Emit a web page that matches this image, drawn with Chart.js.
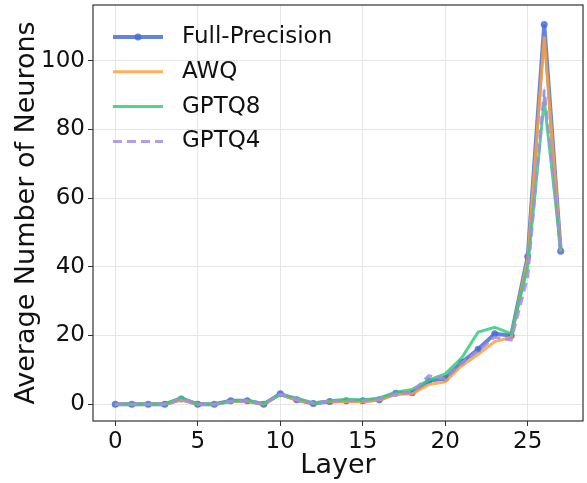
<!DOCTYPE html>
<html>
<head>
<meta charset="utf-8">
<script src="https://cdn.jsdelivr.net/npm/chart.js@4"></script>
<style>
  html, body { margin: 0; padding: 0; background: #fff; }
  #wrap { width: 587px; height: 483px; }
</style>
</head>
<body>
<div id="wrap"><canvas id="neuronChart" width="587" height="483"></canvas></div>
<script>
// neurons per layer for each model variant
const layers = [0, 1, 2, 3, 4, 5, 6, 7, 8, 9, 10, 11, 12, 13, 14, 15, 16, 17, 18, 19, 20, 21, 22, 23, 24, 25, 26, 27];
const fullPrecision = [0, 0, 0, 0, 1.5, 0, 0, 1, 1, 0, 3, 1.3, 0.2, 0.8, 1, 1, 1.3, 3.2, 3.3, 6.8, 7.5, 12.2, 16, 20.5, 20, 43, 110.5, 44.5];
const awq = [0, 0, 0, 0, 1.2, 0, 0, 0.8, 0.9, 0, 2.8, 1.2, 0.3, 0.8, 0.8, 0.7, 1.2, 2.8, 3, 5.7, 6.5, 11.2, 14.5, 18.2, 19.5, 42, 107, 44.5];
const gptq8 = [0, 0, 0, 0, 2, 0, 0, 0.9, 1.1, 0.2, 2.8, 1.8, 0.3, 1, 1.4, 1.2, 1.8, 3.5, 4.3, 7, 8.8, 13.5, 21, 22.4, 20.5, 40, 88.5, 45];
const gptq4 = [0, 0, 0, 0, 1.6, 0, 0, 0.9, 1, 0.1, 2.9, 1.5, 0.3, 0.9, 1.1, 1, 1.5, 3, 3.5, 8.3, 7.3, 12, 15.5, 19.5, 18.7, 37, 91.5, 45];
const xTicks = [0, 5, 10, 15, 20, 25];
const yTicks = [0, 20, 40, 60, 80, 100];

const FONT = "'DejaVu Sans', sans-serif";

function pts(values) {
    return values.map((v, i) => ({ x: layers[i], y: v }));
}

const series = [
    { label: 'Full-Precision', data: fullPrecision, color: 'rgba(70,110,215,0.85)', width: 4, dash: [], marker: 3.5, order: 4 },
    { label: 'AWQ', data: awq, color: 'rgba(255,160,60,0.85)', width: 3, dash: [], marker: 0, order: 3 },
    { label: 'GPTQ8', data: gptq8, color: 'rgba(50,205,120,0.85)', width: 3, dash: [], marker: 0, order: 2 },
    { label: 'GPTQ4', data: gptq4, color: 'rgba(165,140,230,0.85)', width: 3, dash: [9, 5], marker: 0, order: 1 }
];

// box around the plot, axis titles and the legend
const decorPlugin = {
    id: 'decor',
    afterDraw(chart) {
        const ctx = chart.ctx;
        const a = chart.chartArea;
        ctx.save();
        ctx.strokeStyle = '#333';
        ctx.lineWidth = 1.2;
        ctx.strokeRect(a.left, a.top, a.right - a.left, a.bottom - a.top);

        ctx.fillStyle = '#111';
        ctx.font = '27px ' + FONT;
        ctx.textAlign = 'center';
        ctx.textBaseline = 'middle';
        ctx.fillText('Layer', (a.left + a.right) / 2, 466);
        ctx.save();
        ctx.translate(27, (a.top + a.bottom) / 2);
        ctx.rotate(-Math.PI / 2);
        ctx.fillText('Average Number of Neurons', 0, 0);
        ctx.restore();

        ctx.font = '23px ' + FONT;
        ctx.textAlign = 'left';
        series.forEach((s, i) => {
            const y = 37 + i * 34.8;
            ctx.beginPath();
            ctx.strokeStyle = s.color;
            ctx.lineWidth = s.width;
            ctx.setLineDash(s.dash);
            ctx.moveTo(113, y);
            ctx.lineTo(163, y);
            ctx.stroke();
            ctx.setLineDash([]);
            if (s.marker) {
                ctx.beginPath();
                ctx.fillStyle = s.color;
                ctx.arc(138, y, s.marker, 0, Math.PI * 2);
                ctx.fill();
            }
            ctx.fillStyle = '#111';
            ctx.fillText(s.label, 182, y);
        });
        ctx.restore();
    }
};

function noEdgePadding(scale) {
    scale.paddingTop = 0;
    scale.paddingBottom = 0;
    scale.paddingLeft = 0;
    scale.paddingRight = 0;
}

new Chart(document.getElementById('neuronChart'), {
    type: 'line',
    data: {
        datasets: series.map(s => ({
            label: s.label,
            data: pts(s.data),
            borderColor: s.color,
            backgroundColor: s.color,
            borderWidth: s.width,
            borderDash: s.dash,
            pointRadius: s.marker,
            pointBorderWidth: 0,
            pointBackgroundColor: s.color,
            tension: 0,
            fill: false,
            order: s.order
        }))
    },
    options: {
        responsive: false,
        animation: false,
        layout: { padding: { top: 5, right: 3, left: 0, bottom: 0 } },
        plugins: {
            legend: { display: false },
            tooltip: { enabled: false }
        },
        scales: {
            x: {
                type: 'linear',
                min: -1.35,
                max: 28.35,
                afterBuildTicks: scale => { scale.ticks = xTicks.map(v => ({ value: v })); },
                afterFit: scale => { scale.height = 62; noEdgePadding(scale); },
                grid: { color: '#e6e6e6', tickColor: '#333', tickLength: 5, lineWidth: 1 },
                border: { display: false },
                ticks: { color: '#111', font: { family: FONT, size: 23 }, padding: 2, maxRotation: 0 }
            },
            y: {
                type: 'linear',
                min: -4.9,
                max: 116.2,
                afterBuildTicks: scale => { scale.ticks = yTicks.map(v => ({ value: v })); },
                afterFit: scale => { scale.width = 93; noEdgePadding(scale); },
                grid: { color: '#e6e6e6', tickColor: '#333', tickLength: 5, lineWidth: 1 },
                border: { display: false },
                ticks: { color: '#111', font: { family: FONT, size: 23 }, padding: 3 }
            }
        }
    },
    plugins: [decorPlugin]
});
</script>
</body>
</html>
